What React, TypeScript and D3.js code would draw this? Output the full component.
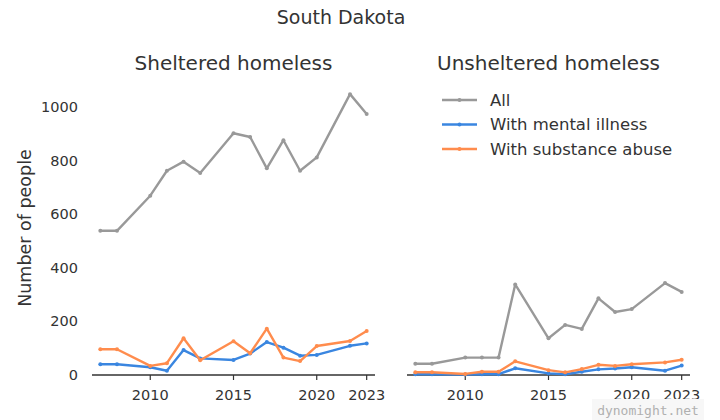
import React from "react";
import * as d3 from "d3";

// years with data (2009, 2014, 2021 absent)
const years = [2007, 2008, 2010, 2011, 2012, 2013, 2015, 2016, 2017, 2018, 2019, 2020, 2022, 2023];

const shelteredAll = [538, 538, 669, 762, 796, 754, 902, 888, 771, 876, 762, 812, 1048, 974];
const shelteredMental = [40, 40, 29, 16, 93, 62, 56, 80, 123, 102, 72, 75, 109, 118];
const shelteredSubstance = [96, 96, 34, 44, 137, 55, 126, 81, 173, 65, 52, 108, 127, 164];

const unshelteredAll = [42, 42, 65, 65, 65, 338, 137, 187, 172, 286, 235, 246, 343, 310];
const unshelteredMental = [3, 3, 2, 3, 3, 25, 6, 3, 12, 21, 24, 29, 16, 35];
const unshelteredSubstance = [10, 10, 4, 12, 12, 51, 18, 10, 22, 38, 34, 40, 47, 57];

const seriesNames = ["All", "With mental illness", "With substance abuse"];
const seriesColors = ["#999999", "#3a86e0", "#ff8c4d"];
const xTicks = [2010, 2015, 2020, 2023];
const yTicks = [0, 200, 400, 600, 800, 1000];

const width = 720;
const height = 420;
const font = "'DejaVu Sans', sans-serif";
const textColor = "#333";

const y = d3.scaleLinear().domain([0, 1000]).range([375, 107]);

function Panel({ left, title, data, showY }) {
  const x = d3.scaleLinear().domain([2006.5, 2023.5]).range([left - 8, left + 275]);
  const line = d3
    .line<number>()
    .x((_, i) => x(years[i]))
    .y((d) => y(d));
  const [x0, x1] = x.range();
  return (
    <g>
      <text x={(x(2007) + x(2023)) / 2} y={70} textAnchor="middle" fontSize={20} fill={textColor}>
        {title}
      </text>
      {showY &&
        yTicks.map((t) => (
          <text key={t} x={78} y={y(t)} dy="0.35em" textAnchor="end" fontSize={14.5} fill={textColor}>
            {t}
          </text>
        ))}
      <line x1={x0} x2={x1} y1={y(0)} y2={y(0)} stroke="#333" strokeWidth={1.3} />
      {xTicks.map((t) => (
        <g key={t} transform={`translate(${x(t)},${y(0)})`}>
          <line y2={5} stroke="#333" strokeWidth={1.2} />
          <text y={20} dy="0.35em" textAnchor="middle" fontSize={14.5} fill={textColor}>
            {t}
          </text>
        </g>
      ))}
      {data.map((vals, si) => (
        <g key={si}>
          <path d={line(vals) || ""} fill="none" stroke={seriesColors[si]} strokeWidth={2.4} strokeLinejoin="round" />
          {vals.map((v, i) => (
            <circle key={i} cx={x(years[i])} cy={y(v)} r={2} fill={seriesColors[si]} />
          ))}
        </g>
      ))}
    </g>
  );
}

export default function App() {
  return (
    <svg
      width={width}
      height={height}
      style={{ position: "absolute", left: 0, top: 0, background: "#fff", fontFamily: font }}
    >
      <text x={341} y={24} textAnchor="middle" fontSize={19} fill={textColor}>
        South Dakota
      </text>
      <text
        transform={`translate(31,228) rotate(-90)`}
        textAnchor="middle"
        fontSize={17.5}
        fill={textColor}
      >
        Number of people
      </text>
      <Panel
        left={100}
        title="Sheltered homeless"
        data={[shelteredAll, shelteredMental, shelteredSubstance]}
        showY
      />
      <Panel
        left={415}
        title="Unsheltered homeless"
        data={[unshelteredAll, unshelteredMental, unshelteredSubstance]}
        showY={false}
      />
      {seriesNames.map((name, i) => (
        <g key={name} transform={`translate(442,${100 + i * 24.5})`}>
          <line x2={35} stroke={seriesColors[i]} strokeWidth={2.4} />
          <circle cx={17.5} r={2} fill={seriesColors[i]} />
          <text x={48} dy="0.35em" fontSize={16.5} fill={textColor}>
            {name}
          </text>
        </g>
      ))}
      <rect x={592} y={399} width={112} height={21} fill="#f7f7f7" />
      <text x={648} y={410} dy="0.35em" textAnchor="middle" fontSize={13} fill="#b0b0b0" fontFamily="'DejaVu Sans Mono', monospace">
        dynomight.net
      </text>
    </svg>
  );
}
